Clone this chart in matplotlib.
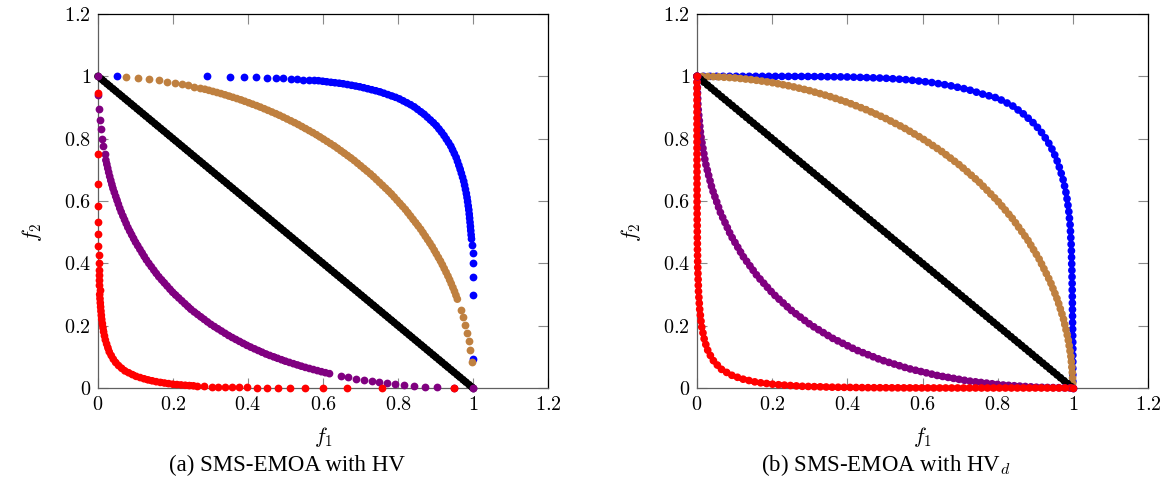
import matplotlib
matplotlib.use("Agg")
import matplotlib.pyplot as plt
from matplotlib.ticker import FixedLocator, FixedFormatter

plt.rcParams['font.family'] = ['Liberation Serif', 'DejaVu Serif']
plt.rcParams['mathtext.fontset'] = 'cm'
plt.rcParams['lines.scale_dashes'] = False

# ---------------- data: panel (a) SMS-EMOA with HV ----------------
a_blue_sparse_x = [0.05, 0.29, 0.352, 0.39, 0.421, 0.45, 0.474, 0.494, 0.515, 0.53, 0.547, 0.563, 0.576,
                   0.998, 0.999, 1.0, 1.0, 1.0, 1.0, 1.0]
a_blue_sparse_y = [1.0, 0.9996, 0.999, 0.998, 0.997, 0.996, 0.995, 0.994, 0.992, 0.991, 0.989, 0.988, 0.987,
                   0.458, 0.432, 0.40, 0.357, 0.298, 0.092, 0.0]
a_blue_dense_x = [0.588, 0.62, 0.65, 0.70, 0.75, 0.80, 0.84, 0.87, 0.90, 0.92, 0.94, 0.955, 0.965, 0.975,
                  0.983, 0.989, 0.993, 0.996]
a_blue_dense_y = [0.986, 0.981, 0.977, 0.966, 0.951, 0.930, 0.905, 0.878, 0.845, 0.815, 0.778, 0.740, 0.705,
                  0.665, 0.620, 0.570, 0.520, 0.478]

a_brown_sparse_x = [0.074, 0.1075, 0.136, 0.162, 0.185, 0.205, 0.223, 0.241, 0.257, 0.272,
                    0.968, 0.974, 0.979, 0.984, 0.9885, 0.9925, 0.9966, 1.0]
a_brown_sparse_y = [0.997, 0.994, 0.991, 0.987, 0.983, 0.979, 0.975, 0.971, 0.966, 0.962,
                    0.25, 0.2265, 0.202, 0.177, 0.151, 0.122, 0.082, 0.0]
a_brown_dense_x = [0.285, 0.33, 0.38, 0.43, 0.48, 0.53, 0.58, 0.63, 0.68, 0.73, 0.78, 0.82, 0.86, 0.89,
                   0.915, 0.935, 0.95, 0.962]
a_brown_dense_y = [0.9585, 0.944, 0.925, 0.9028, 0.8773, 0.848, 0.8146, 0.7766, 0.7332, 0.6834, 0.6258,
                   0.5724, 0.5103, 0.456, 0.4035, 0.3547, 0.3122, 0.2731]

a_black_dense_x = [0.0, 0.25, 0.5, 0.75, 1.0]
a_black_dense_y = [1.0, 0.75, 0.5, 0.25, 0.0]

a_purple_sparse_x = [0.0, 0.001, 0.003, 0.0054, 0.0079, 0.0112, 0.0142, 0.0176,
                     0.647, 0.667, 0.688, 0.709, 0.730, 0.749, 0.770, 0.792, 0.816, 0.843, 0.872, 0.905,
                     0.949, 1.0]
a_purple_sparse_y = [1.0, 0.939, 0.896, 0.859, 0.830, 0.80, 0.776, 0.752,
                     0.038, 0.034, 0.029, 0.025, 0.021, 0.018, 0.015, 0.012, 0.009, 0.007, 0.004, 0.002,
                     0.001, 0.0]
a_purple_dense_x = [0.021, 0.03, 0.04, 0.06, 0.08, 0.1, 0.13, 0.16, 0.2, 0.25, 0.3, 0.35, 0.4, 0.45, 0.5,
                    0.55, 0.6, 0.628]
a_purple_dense_y = [0.731, 0.684, 0.64, 0.570, 0.514, 0.468, 0.409, 0.36, 0.306, 0.25, 0.205, 0.167, 0.135,
                    0.108, 0.086, 0.067, 0.051, 0.043]

a_red_sparse_x = [0.0, 0.00002, 0.0001, 0.00025, 0.00044, 0.0007, 0.001, 0.0014, 0.0018, 0.0021, 0.0025,
                  0.0030, 0.0035, 0.004,
                  0.265, 0.283, 0.303, 0.321, 0.339, 0.356, 0.377, 0.398, 0.423, 0.45, 0.479, 0.512, 0.553,
                  0.601, 0.663, 0.758, 0.95]
a_red_sparse_y = [0.948, 0.752, 0.653, 0.584, 0.534, 0.494, 0.455, 0.426, 0.40, 0.38, 0.362, 0.346, 0.33,
                  0.314,
                  0.0064, 0.0055, 0.0046, 0.0039, 0.0033, 0.0029, 0.0024, 0.0018, 0.0014, 0.0011, 0.0008,
                  0.0006, 0.0004, 0.0002, 0.0001, 0.0, 0.0]
a_red_dense_x = [0.0045, 0.006, 0.008, 0.01, 0.015, 0.02, 0.03, 0.04, 0.05, 0.07, 0.1, 0.13, 0.16, 0.2,
                 0.24, 0.255]
a_red_dense_y = [0.30, 0.275, 0.245, 0.22, 0.18, 0.152, 0.116, 0.094, 0.077, 0.056, 0.038, 0.027, 0.019,
                 0.012, 0.008, 0.007]

# ---------------- data: panel (b) SMS-EMOA with HV_d ----------------
b_blue_x = [0.0, 0.1, 0.2, 0.3, 0.4, 0.5, 0.56, 0.62, 0.67, 0.72, 0.76, 0.80, 0.84, 0.87, 0.90, 0.92, 0.94,
            0.955, 0.965, 0.975, 0.983, 0.989, 0.993, 0.996, 0.998, 0.999, 1.0, 1.0]
b_blue_y = [1.0, 1.0, 0.9999, 0.9995, 0.998, 0.994, 0.989, 0.981, 0.971, 0.958, 0.943, 0.930, 0.905, 0.878,
            0.845, 0.815, 0.778, 0.740, 0.705, 0.665, 0.620, 0.570, 0.520, 0.45, 0.35, 0.25, 0.12, 0.0]

b_brown_x = [0.0, 0.05, 0.1, 0.15, 0.2, 0.25, 0.3, 0.35, 0.4, 0.45, 0.5, 0.55, 0.6, 0.65, 0.7, 0.75, 0.8,
             0.84, 0.88, 0.91, 0.94, 0.96, 0.975, 0.987, 0.995, 0.999, 1.0]
b_brown_y = [1.0, 0.9988, 0.995, 0.9887, 0.9798, 0.9682, 0.9539, 0.9367, 0.9165, 0.893, 0.866, 0.8352, 0.8,
             0.7599, 0.7141, 0.6614, 0.6, 0.5426, 0.475, 0.4146, 0.3412, 0.28, 0.2222, 0.1607, 0.0999,
             0.0447, 0.0]

b_black_x = [0.0, 0.25, 0.5, 0.75, 1.0]
b_black_y = [1.0, 0.75, 0.5, 0.25, 0.0]

b_purple_x = [0.0, 0.0025, 0.01, 0.0225, 0.04, 0.0625, 0.09, 0.1225, 0.16, 0.2025, 0.25, 0.3025, 0.36,
              0.4225, 0.49, 0.5625, 0.64, 0.7225, 0.81, 0.9025, 1.0]
b_purple_y = [1.0, 0.9025, 0.81, 0.7225, 0.64, 0.5625, 0.49, 0.4225, 0.36, 0.3025, 0.25, 0.2025, 0.16,
              0.1225, 0.09, 0.0625, 0.04, 0.0225, 0.01, 0.0025, 0.0]

b_red_x = [0.0, 0.0, 0.00002, 0.0001, 0.0003, 0.001, 0.002, 0.004, 0.007, 0.012, 0.02, 0.03, 0.045, 0.065,
           0.09, 0.12, 0.16, 0.21, 0.28, 0.36, 0.45, 0.55, 0.65, 0.75, 0.85, 0.95, 1.0]
b_red_y = [1.0, 0.85, 0.73, 0.656, 0.569, 0.457, 0.387, 0.31, 0.255, 0.200, 0.152, 0.116, 0.085, 0.060,
           0.042, 0.029, 0.018, 0.011, 0.0055, 0.0026, 0.0011, 0.0004, 0.0001, 0.00002, 0.0, 0.0, 0.0]

tick_values = [0, 0.2, 0.4, 0.6, 0.8, 1.0, 1.2]
tick_labels = ["0", "0.2", "0.4", "0.6", "0.8", "1", "1.2"]
captions = ["(a) SMS-EMOA with HV", "(b) SMS-EMOA with HV$_d$"]

C_BLUE, C_BROWN, C_BLACK, C_PURPLE, C_RED = "#0000ff", "#bf8040", "#000000", "#800080", "#ff0000"
MS = 5.6  # marker diameter in points

W, H = 1167, 491
fig = plt.figure(figsize=(W / 100, H / 100), dpi=100)


def chain(ax, x, y, color, gap):
    ax.plot(x, y, color=color, lw=MS, linestyle=(0, (0.001, gap)),
            dash_capstyle='round', solid_capstyle='round', clip_on=False, zorder=3)


def dots(ax, x, y, color):
    ax.plot(x, y, 'o', color=color, ms=MS, mec='none', clip_on=False, zorder=3)


def style(ax):
    ax.set_xlim(0, 1.2)
    ax.set_ylim(0, 1.2)
    for axis in (ax.xaxis, ax.yaxis):
        axis.set_major_locator(FixedLocator(tick_values))
        axis.set_major_formatter(FixedFormatter(["$" + t + "$" for t in tick_labels]))
    ax.tick_params(direction='in', length=7, width=0.8, color='#8a8a8a',
                   top=True, right=True, labelsize=14.5)
    ax.tick_params(axis='x', pad=6)
    ax.tick_params(axis='y', pad=5)
    for s in ('top', 'right'):
        ax.spines[s].set_color('black')
        ax.spines[s].set_linewidth(0.9)
    for s in ('left', 'bottom'):
        ax.spines[s].set_color('#606060')
        ax.spines[s].set_linewidth(0.9)


axa = fig.add_axes([98 / W, (H - 388) / H, 450 / W, 374 / H])
axb = fig.add_axes([697 / W, (H - 388) / H, 451 / W, 374 / H])

# panel (a)
chain(axa, a_blue_dense_x, a_blue_dense_y, C_BLUE, 3.0)
dots(axa, a_blue_sparse_x, a_blue_sparse_y, C_BLUE)
chain(axa, a_brown_dense_x, a_brown_dense_y, C_BROWN, 3.0)
dots(axa, a_brown_sparse_x, a_brown_sparse_y, C_BROWN)
chain(axa, a_black_dense_x, a_black_dense_y, C_BLACK, 2.8)
chain(axa, a_purple_dense_x, a_purple_dense_y, C_PURPLE, 3.0)
dots(axa, a_purple_sparse_x, a_purple_sparse_y, C_PURPLE)
chain(axa, a_red_dense_x, a_red_dense_y, C_RED, 3.0)
dots(axa, a_red_sparse_x, a_red_sparse_y, C_RED)

# panel (b)
chain(axb, b_blue_x, b_blue_y, C_BLUE, 4.7)
chain(axb, b_brown_x, b_brown_y, C_BROWN, 3.9)
chain(axb, b_black_x, b_black_y, C_BLACK, 3.3)
chain(axb, b_purple_x, b_purple_y, C_PURPLE, 4.0)
chain(axb, b_red_x, b_red_y, C_RED, 4.3)
for ax, xs, ys, c in ((axb, b_blue_x, b_blue_y, C_BLUE), (axb, b_red_x, b_red_y, C_RED)):
    dots(ax, [xs[0], xs[-1]], [ys[0], ys[-1]], c)

for ax in (axa, axb):
    style(ax)

for cx in (323, 922):
    fig.text(cx / W, 1 - 437 / H, r"$f_1$", ha='center', va='center', fontsize=15.5)
for lx in (32, 631):
    fig.text(lx / W, 1 - 232 / H, r"$f_2$", ha='center', va='center', fontsize=15.5, rotation=90)

for cx, cap in zip((287, 886), captions):
    fig.text(cx / W, 1 - 465 / H, cap, ha='center', va='center', fontsize=16.5)

fig.savefig("out.png", dpi=100)
